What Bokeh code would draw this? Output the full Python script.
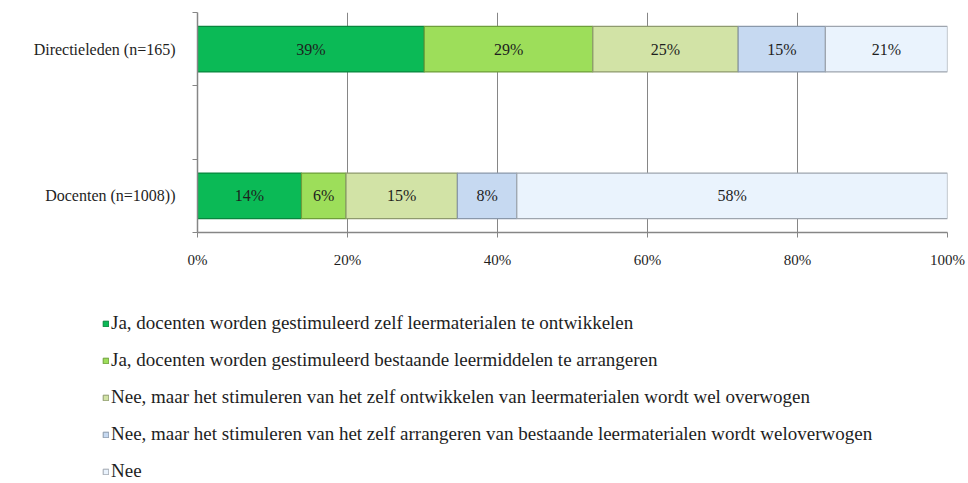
from bokeh.plotting import figure
from bokeh.layouts import column, row
from bokeh.models import ColumnDataSource, Range1d, FixedTicker, Legend, LegendItem
from bokeh.core.properties import value
from bokeh.embed import file_html
from bokeh.resources import INLINE

# ---- data ----
categories = ["Docenten (n=1008))", "Directieleden (n=165)"]
series_names = [
    "Ja, docenten worden gestimuleerd zelf leermaterialen te ontwikkelen",
    "Ja, docenten worden gestimuleerd bestaande leermiddelen te arrangeren",
    "Nee, maar het stimuleren van het zelf ontwikkelen van leermaterialen wordt wel overwogen",
    "Nee, maar het stimuleren van het zelf arrangeren van bestaande leermaterialen wordt weloverwogen",
    "Nee",
]
ja_ontwikkelen = [14, 39]
ja_arrangeren = [6, 29]
nee_overwogen_ontwikkelen = [15, 25]
nee_overwogen_arrangeren = [8, 15]
nee = [58, 21]
series_values = [ja_ontwikkelen, ja_arrangeren, nee_overwogen_ontwikkelen,
                 nee_overwogen_arrangeren, nee]
x_ticks = [0, 0.2, 0.4, 0.6, 0.8, 1.0]
x_tick_labels = ["0%", "20%", "40%", "60%", "80%", "100%"]

fill_colors = ["#0BBA56", "#9DDE5A", "#D2E3A6", "#C6D9F1", "#EAF3FD"]
edge_colors = ["#08863E", "#6E9E3A", "#8E9A6E", "#8A98AA", "#9EA5AE"]

FONT = "Liberation Serif"
GRAY = "#868686"
TXT = "#1E1E1E"

# category slots: an empty slot between the two bars
cat_pos = [0.5 + 2 * i for i in range(len(categories))]
slot_edges = [0, 1, 2, 3]

p = figure(width=968, height=294, output_backend="svg", toolbar_location=None,
           x_range=Range1d(0, 1), y_range=Range1d(0, 3),
           min_border_left=197, min_border_right=21, min_border_top=12,
           min_border_bottom=62)
p.outline_line_color = None
p.background_fill_color = "white"

totals = [sum(s[i] for s in series_values) for i in range(len(categories))]
cum = [0.0] * len(categories)
sources = []
for k, vals in enumerate(series_values):
    left = [cum[i] / totals[i] for i in range(len(categories))]
    right = [(cum[i] + vals[i]) / totals[i] for i in range(len(categories))]
    cum = [cum[i] + vals[i] for i in range(len(categories))]
    src = ColumnDataSource(dict(
        y=cat_pos, left=left, right=right,
        mid=[(l + r) / 2 for l, r in zip(left, right)],
        label=[f"{v}%" for v in vals]))
    sources.append(src)
    p.hbar(y="y", left="left", right="right", height=0.62, source=src,
           fill_color=fill_colors[k], line_color=edge_colors[k], line_width=1.2)
    p.text(x="mid", y="y", text="label", source=src, text_align="center",
           text_baseline="middle", text_font=value(FONT), text_font_size="16px",
           text_color=TXT)

# x axis
xa = p.xaxis[0]
xa.ticker = FixedTicker(ticks=x_ticks)
xa.major_label_overrides = {t: l for t, l in zip(x_ticks, x_tick_labels)}
xa.axis_line_color = GRAY
xa.axis_line_width = 1.5
xa.major_tick_line_color = GRAY
xa.major_tick_out = 5
xa.major_tick_in = 0
xa.minor_tick_line_color = None
xa.major_label_text_font = FONT
xa.major_label_text_font_size = "15px"
xa.major_label_text_color = TXT
xa.major_label_standoff = 14

# y axis
ya = p.yaxis[0]
ya.ticker = FixedTicker(ticks=cat_pos, minor_ticks=slot_edges)
ya.major_label_overrides = {t: l for t, l in zip(cat_pos, categories)}
ya.axis_line_color = GRAY
ya.axis_line_width = 1.5
ya.major_tick_line_color = None
ya.major_tick_out = 0
ya.major_tick_in = 0
ya.minor_tick_line_color = GRAY
ya.minor_tick_out = 5
ya.minor_tick_in = 0
ya.major_label_text_font = FONT
ya.major_label_text_font_size = "16px"
ya.major_label_text_color = TXT
ya.major_label_standoff = 17

p.xgrid.ticker = FixedTicker(ticks=x_ticks)
p.xgrid.grid_line_color = GRAY
p.xgrid.grid_line_width = 1
p.ygrid.grid_line_color = None

# ---- legend figure below (bars out of view; only the legend shows) ----
p2 = figure(width=968, height=188, output_backend="svg", toolbar_location=None,
            x_range=Range1d(0, 1), y_range=Range1d(10, 11),
            x_axis_type=None, y_axis_type=None,
            min_border_left=102, min_border_right=0, min_border_top=0,
            min_border_bottom=0)
p2.outline_line_color = None
p2.xgrid.visible = False
p2.ygrid.visible = False
items = []
for k, name in enumerate(series_names):
    r = p2.hbar(y="y", left="left", right="right", height=0.62, source=sources[k],
                fill_color=fill_colors[k], line_color=edge_colors[k], line_width=1)
    items.append(LegendItem(label=name, renderers=[r]))

legend = Legend(items=items, location=(0, 0), orientation="vertical",
                glyph_width=7, glyph_height=7, label_standoff=2,
                label_height=22, spacing=15, padding=0, margin=0,
                label_text_font=FONT, label_text_font_size="19px",
                label_text_color=TXT, border_line_color=None,
                background_fill_alpha=0)
p2.add_layout(legend, "center")

layout = column(p, row(p2), spacing=0)
open("out.html", "w").write(file_html(layout, INLINE))
